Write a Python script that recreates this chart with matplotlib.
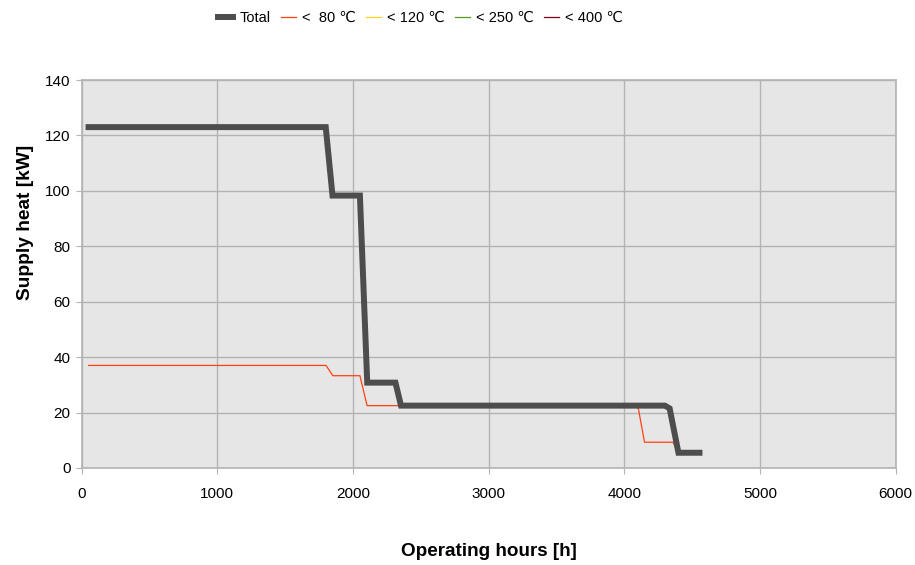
import matplotlib
matplotlib.use("Agg")
import matplotlib.pyplot as plt

plt.rcParams['font.family'] = ['Liberation Sans', 'DejaVu Sans']

# Operating hours vs supply heat (step curves)
total_hours = [52, 1800, 1850, 2052, 2106, 2314, 2355, 4300, 4335, 4400, 4555]
total_kw = [123, 123, 98.3, 98.3, 30.8, 30.8, 22.5, 22.5, 21.5, 5.5, 5.5]

t80_hours = [52, 1802, 1853, 2052, 2105, 4085, 4105, 4150, 4360, 4400, 4555]
t80_kw = [37, 37, 33.3, 33.3, 22.5, 22.5, 21.3, 9.3, 9.3, 5.5, 5.5]

# no visible data for the higher temperature levels
t120_hours, t120_kw = [], []
t250_hours, t250_kw = [], []
t400_hours, t400_kw = [], []

series_labels = ['Total', '<  80 ℃', '< 120 ℃', '< 250 ℃', '< 400 ℃']
series_colors = ['#4d4d4d', '#ff420e', '#ffd320', '#579d1c', '#7e0021']

x_ticks = [0, 1000, 2000, 3000, 4000, 5000, 6000]
y_ticks = [0, 20, 40, 60, 80, 100, 120, 140]

fig = plt.figure(figsize=(9.15, 5.65), dpi=100)
ax = fig.add_axes([0.0891, 0.1717, 0.8896, 0.6867])
ax.set_facecolor('#e6e6e6')

ax.plot(total_hours, total_kw, color=series_colors[0], lw=4.3, label=series_labels[0],
        solid_joinstyle='miter', zorder=4)
ax.plot(t80_hours, t80_kw, color=series_colors[1], lw=0.9, label=series_labels[1], zorder=3)
ax.plot(t120_hours, t120_kw, color=series_colors[2], lw=0.9, label=series_labels[2])
ax.plot(t250_hours, t250_kw, color=series_colors[3], lw=0.9, label=series_labels[3])
ax.plot(t400_hours, t400_kw, color=series_colors[4], lw=0.9, label=series_labels[4])

ax.set_xlim(0, 6000)
ax.set_ylim(0, 140)
ax.set_xticks(x_ticks)
ax.set_yticks(y_ticks)
ax.grid(True, color='#b3b3b3', lw=1)
ax.set_axisbelow(True)
for s in ax.spines.values():
    s.set_color('#b3b3b3')
    s.set_linewidth(1.2)
ax.tick_params(direction='out', length=4, color='#b3b3b3', labelsize=11)
ax.tick_params(axis='x', pad=10)
ax.tick_params(axis='y', pad=4)

ax.set_xlabel('Operating hours [h]', fontsize=13.6, fontweight='bold', labelpad=30)
ax.set_ylabel('Supply heat [kW]', fontsize=13.8, fontweight='bold')
ax.yaxis.set_label_coords(-0.058, 0.634)

fig.legend(loc='upper center', bbox_to_anchor=(0.460, 1.004), ncol=5, frameon=False,
           fontsize=10.5, handlelength=1.0, handletextpad=0.45, columnspacing=0.7)

plt.savefig('out.png', dpi=100)
